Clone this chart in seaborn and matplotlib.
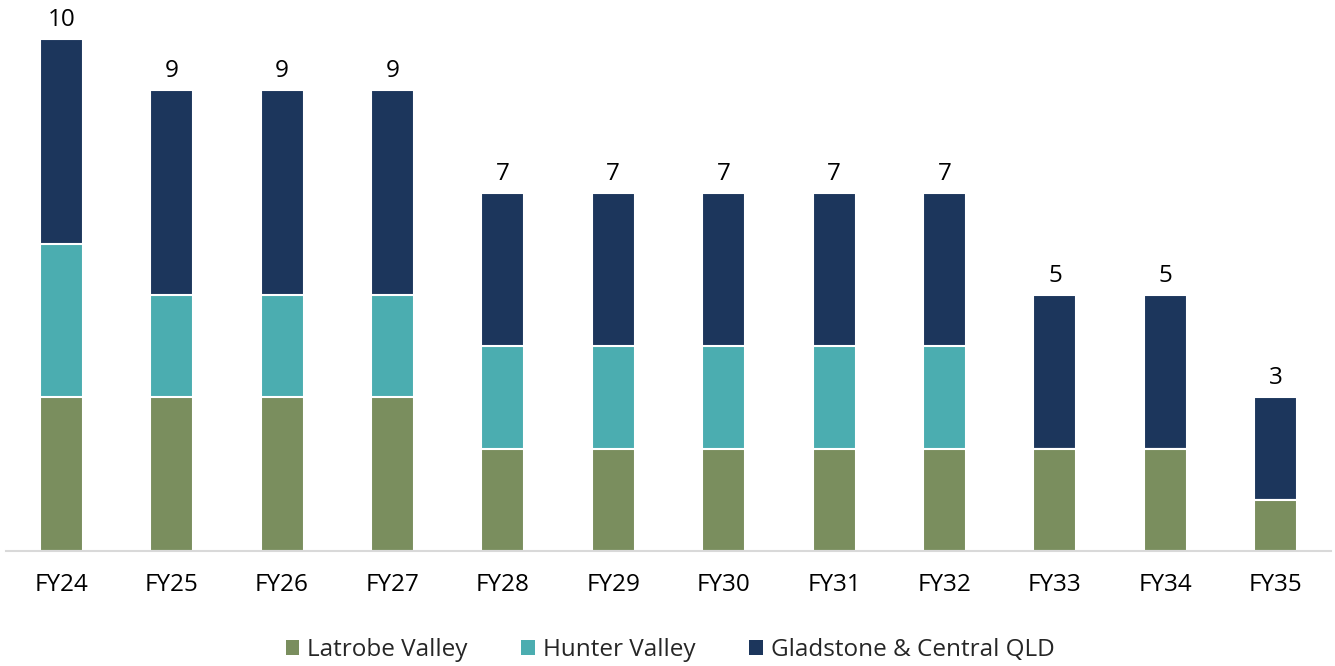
import matplotlib
matplotlib.use("Agg")
import matplotlib.pyplot as plt
from matplotlib.patches import Patch
import seaborn as sns
import pandas as pd
import numpy as np

years = ["FY24", "FY25", "FY26", "FY27", "FY28", "FY29", "FY30", "FY31", "FY32", "FY33", "FY34", "FY35"]
latrobe = [3, 3, 3, 3, 2, 2, 2, 2, 2, 2, 2, 1]
hunter = [3, 2, 2, 2, 2, 2, 2, 2, 2, 0, 0, 0]
gladstone = [4, 4, 4, 4, 3, 3, 3, 3, 3, 3, 3, 2]

series = ["Latrobe Valley", "Hunter Valley", "Gladstone & Central QLD"]
colors = ["#7A8E5E", "#4BADB0", "#1C365C"]

df = pd.DataFrame({"year": years, "latrobe": latrobe, "hunter": hunter, "gladstone": gladstone})
df["lvl1"] = df["latrobe"]
df["lvl2"] = df["latrobe"] + df["hunter"]
df["lvl3"] = df["lvl2"] + df["gladstone"]

sns.set_style("white")
plt.rcParams["font.family"] = ["Open Sans", "DejaVu Sans"]
plt.rcParams["font.weight"] = "medium"

fig = plt.figure(figsize=(13.35, 6.66), dpi=100)
ax = fig.add_axes([0.0045, 0.1727, 0.9925, 0.815])

# stack by layering cumulative totals, tallest first
for col, c in zip(["lvl3", "lvl2", "lvl1"], colors[::-1]):
    sns.barplot(data=df, x="year", y=col, color=c, width=0.39, edgecolor="white",
                linewidth=1.5, saturation=1, ax=ax)

for i, tot in enumerate(df["lvl3"]):
    ax.annotate(str(tot), (i, tot), xytext=(0, 5), textcoords="offset points",
                ha="center", va="bottom", fontsize=17.5, color="black")

ax.set_xlim(-0.5, 11.5)
ax.set_ylim(0, 10.6)
ax.set_xlabel("")
ax.set_ylabel("")
ax.set_yticks([])
sns.despine(ax=ax, left=True, top=True, right=True)
ax.spines["bottom"].set_color("#D9D9D9")
ax.spines["bottom"].set_linewidth(1.5)
ax.tick_params(axis="x", length=0, labelsize=17.5, pad=16, colors="black")

handles = [Patch(facecolor=c, edgecolor="none", label=s) for s, c in zip(series, colors)]
fig.legend(handles=handles, loc="center", bbox_to_anchor=(0.502, 0.024), ncol=3,
           frameon=False, fontsize=17.5, handlelength=0.55, handleheight=0.55,
           handletextpad=0.35, columnspacing=2.2)

fig.savefig("out.png", dpi=100)
